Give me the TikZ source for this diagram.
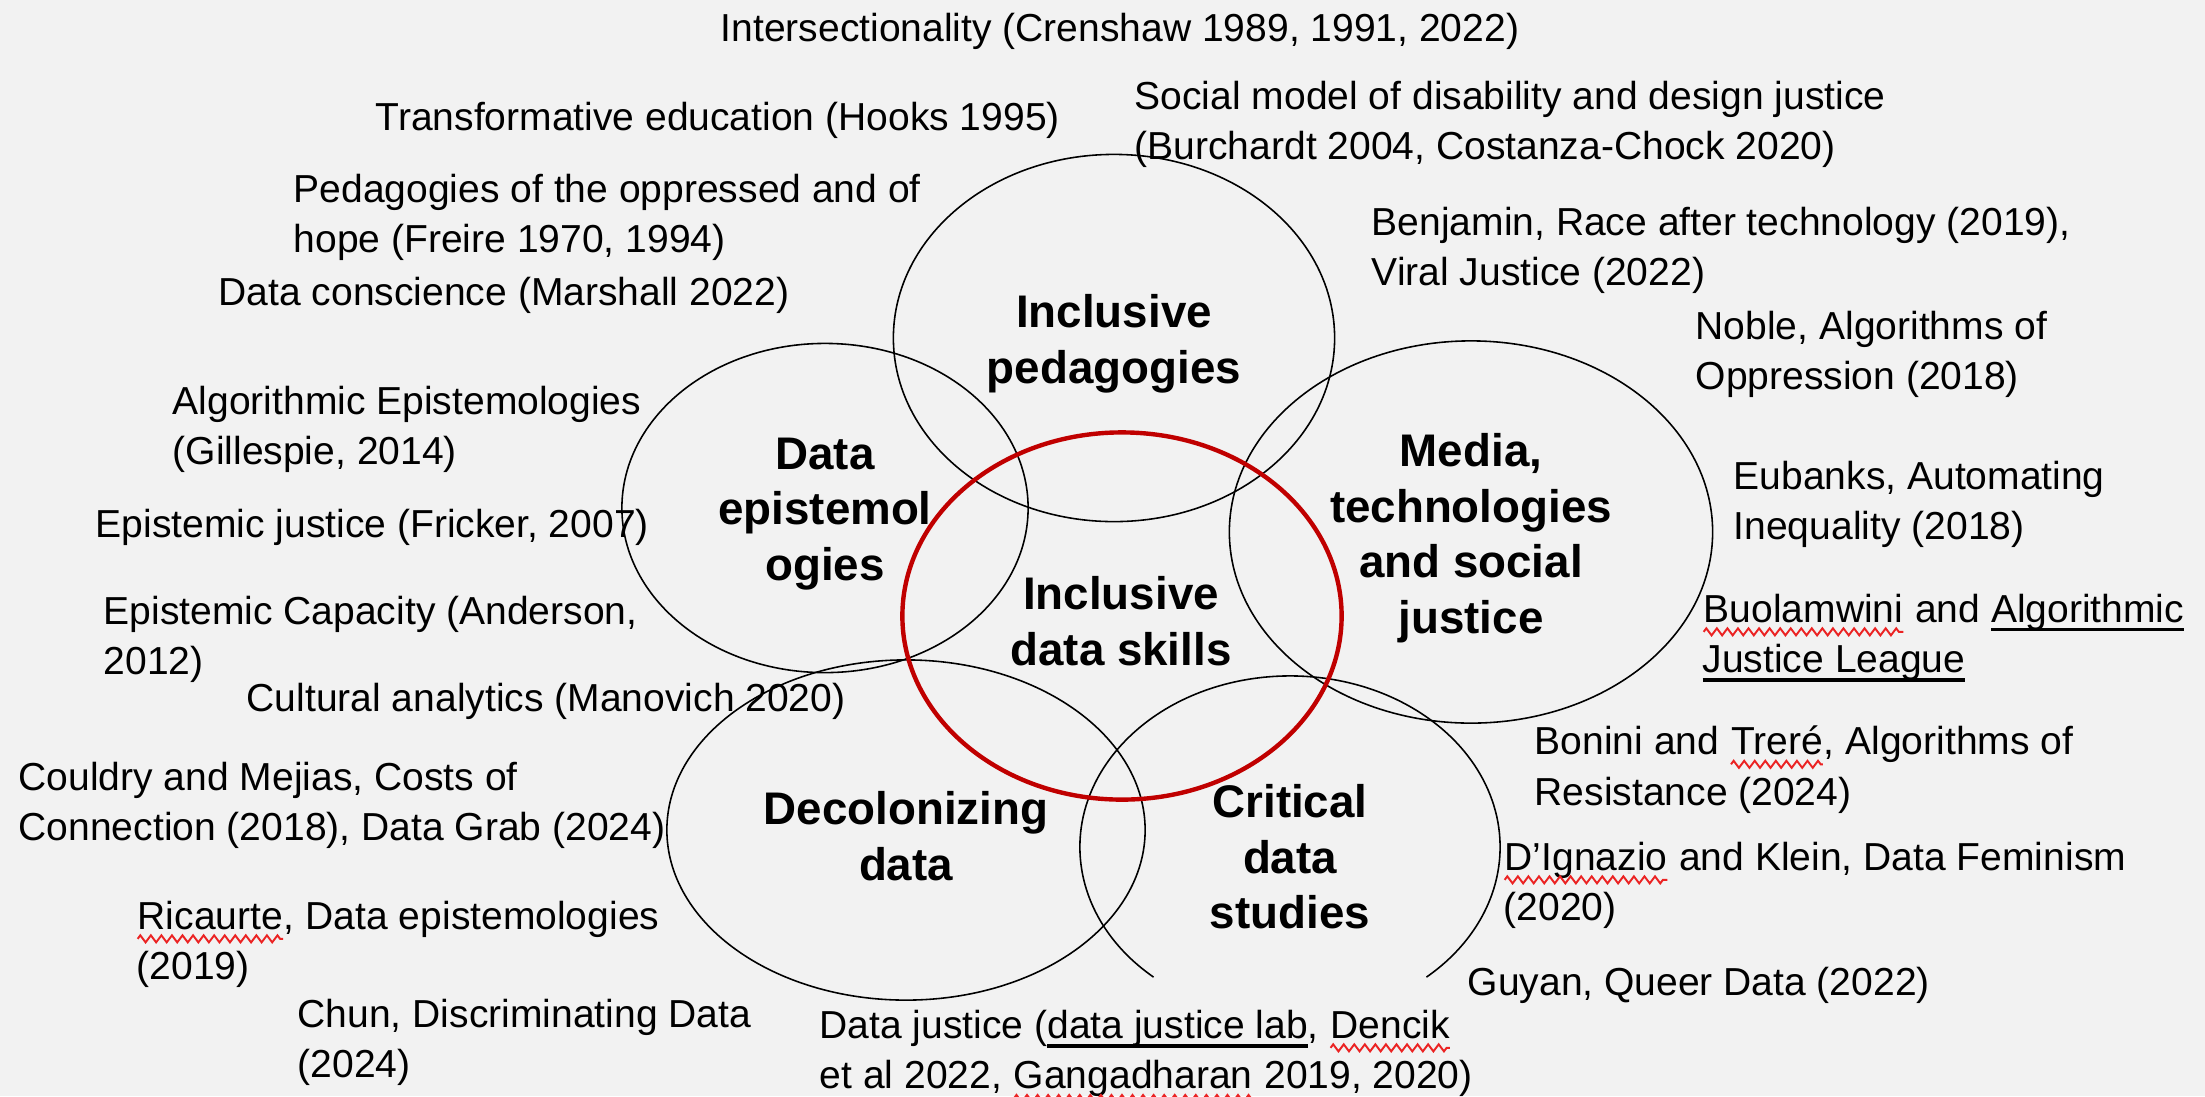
\documentclass[tikz,border=0pt]{standalone}
\usepackage{fontspec}
\setmainfont{Liberation Sans}
\usetikzlibrary{decorations.pathmorphing}

\definecolor{paper}{RGB}{242,242,242}
\definecolor{ringred}{RGB}{192,0,0}
\definecolor{spellred}{RGB}{235,35,35}

\newsavebox{\linkbox}
\newcommand{\linked}[1]{\sbox{\linkbox}{#1}\rlap{\rule[-2.7pt]{\wd\linkbox}{1.1pt}}\usebox{\linkbox}}
\newcommand{\spellwave}[1]{\tikz[baseline=(w.base)]{\node[inner sep=0pt, outer sep=0pt, anchor=base west, align=left] (w) {#1};
	\draw[spellred, line width=0.55pt, decorate, decoration={zigzag, segment length=3pt, amplitude=1pt}] ([yshift=-2.8pt]w.base west) -- ([yshift=-2.8pt]w.base east);}}

\begin{document}
\begin{tikzpicture}[x=0.01cm,y=-0.01cm,
	ref/.style={anchor=north west, inner sep=0pt, align=left, font=\fontsize{11.1}{14.4}\selectfont},
	topic/.style={inner sep=0pt, align=center, font=\fontsize{13}{15.8}\selectfont\bfseries},
	ring/.style={draw=black, line width=0.45pt},
	core/.style={draw=ringred, line width=1.25pt}]

	\useasboundingbox (0,0) rectangle (2205,1096);
	\fill[paper] (0,0) rectangle (2205,1096);

	% circles
	\draw[ring] (1114,338) ellipse [x radius=2.205cm, y radius=1.835cm];
	\draw[ring] (825,508) ellipse [x radius=2.03cm, y radius=1.645cm];
	\draw[ring] (1471,532) ellipse [x radius=2.415cm, y radius=1.91cm];
	\draw[ring] (906,830) ellipse [x radius=2.39cm, y radius=1.70cm];
	\draw[ring] (1290,847) ++(229.5:2.1cm and 1.71cm)
		arc[start angle=229.5, end angle=-49.5, x radius=2.1cm, y radius=1.71cm];
	\draw[core] (1122,616) ellipse [x radius=2.195cm, y radius=1.835cm];

	\node[topic] (peda) at (1114,344) {Inclusive\\pedagogies};
	\node[topic] (epis) at (825,514) {Data\\epistemol\\ogies};
	\node[topic] (media) at (1471,538) {Media,\\technologies\\and social\\justice};
	\node[topic] (skills) at (1121,621) {Inclusive\\data skills};
	\node[topic] (decol) at (906,836) {Decolonizing\\data};
	\node[topic] (crit) at (1290,857) {Critical\\data\\studies};

	% references
	\node[ref] (crenshaw) at (720,13) {Intersectionality (Crenshaw 1989, 1991, 2022)};
	\node[ref] (hooks) at (375,102) {Transformative education (Hooks 1995)};
	\node[ref] (social) at (1134,80) {Social model of disability and design justice\\(Burchardt 2004, Costanza-Chock 2020)};
	\node[ref] (freire) at (293,173) {Pedagogies of the oppressed and of\\hope (Freire 1970, 1994)};
	\node[ref] (marshall) at (218,276) {Data conscience (Marshall 2022)};
	\node[ref] (benjamin) at (1371,206) {Benjamin, Race after technology (2019),\\Viral Justice (2022)};
	\node[ref] (noble) at (1695,310) {Noble, Algorithms of\\Oppression (2018)};
	\node[ref] (gillespie) at (172,385) {Algorithmic Epistemologies\\(Gillespie, 2014)};
	\node[ref] (eubanks) at (1733,460) {Eubanks, Automating\\Inequality (2018)};
	\node[ref] (fricker) at (95,508) {Epistemic justice (Fricker, 2007)};
	\node[ref] (anderson) at (103,595) {Epistemic Capacity (Anderson,\\2012)};
	\node[ref] (ajl) at (1702,593) {\spellwave{Buolamwini} and \linked{Algorithmic}\\\linked{Justice League}};
	\node[ref] (manovich) at (246,682) {Cultural analytics (Manovich 2020)};
	\node[ref] (bonini) at (1534,725) {Bonini and \spellwave{Treré}, Algorithms of\\Resistance (2024)};
	\node[ref] (couldry) at (18,761) {Couldry and Mejias, Costs of\\Connection (2018), Data Grab (2024)};
	\node[ref] (dignazio) at (1503,841) {\spellwave{D’Ignazio} and Klein, Data Feminism\\(2020)};
	\node[ref] (ricaurte) at (136,900) {\spellwave{Ricaurte}, Data epistemologies\\(2019)};
	\node[ref] (guyan) at (1467,966) {Guyan, Queer Data (2022)};
	\node[ref] (chun) at (297,998) {Chun, Discriminating Data\\(2024)};
	\node[ref] (djlab) at (819,1009) {Data justice (\linked{data justice lab}, \spellwave{Dencik}\\et al 2022, \spellwave{Gangadharan} 2019, 2020)};
\end{tikzpicture}
\end{document}
